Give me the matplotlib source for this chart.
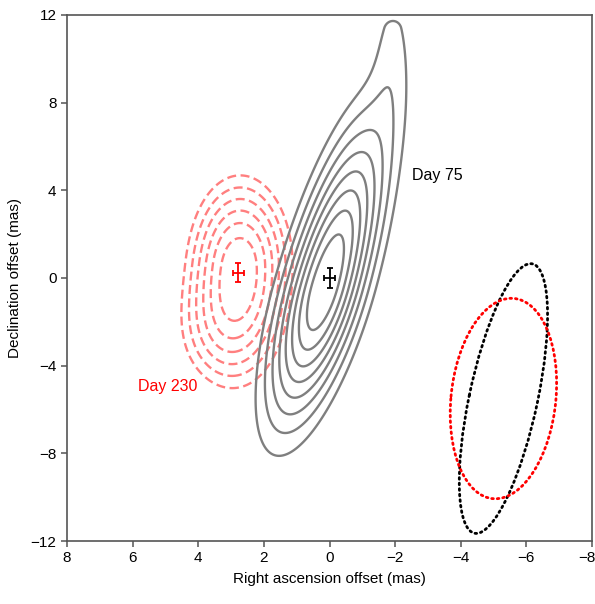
import numpy as np
import matplotlib
matplotlib.use('Agg')
import matplotlib.pyplot as plt
import matplotlib.transforms as mtransforms
from matplotlib.patches import Ellipse

plt.rcParams['font.family'] = ['Liberation Sans', 'DejaVu Sans']

# Day 75 image model: Gaussian components (mas)
d75_x0 = [0.15, -1.92]
d75_y0 = [-0.4, 11.4]
d75_sig_minor = [0.88, 0.45]
d75_sig_up = [5.2, 0.7]
d75_sig_down = [4.3, 3.0]
d75_tilt = [-0.18, 0.0]
d75_amp = [1.0, 0.15]
d75_levels = [0.2, 0.3, 0.4, 0.5, 0.6, 0.7, 0.8, 0.9]

# Day 230 image model
d230_x0 = [2.72, 3.7]
d230_y0 = [0.65, -2.8]
d230_sig_minor = [1.2, 1.15]
d230_sig_up = [3.05, 2.0]
d230_sig_down = [3.8, 2.0]
d230_tilt = [0.0, 0.0]
d230_amp = [1.0, 0.22]
d230_levels = [0.4, 0.5, 0.6, 0.7, 0.8, 0.9]

# fitted positions with errors
pos_x = [0.0, 2.78]
pos_y = [0.0, 0.24]
pos_xerr = [0.17, 0.16]
pos_yerr = [0.46, 0.44]
pos_color = ['black', 'red']

# restoring beams: centre, semi-major, semi-minor, angle (deg)
beam_cx = [-5.3, -5.3]
beam_cy = [-5.5, -5.5]
beam_a = [6.21, 4.58]
beam_b = [1.05, 1.6]
beam_angle = [97.9, 93.5]
beam_color = ['black', 'red']


def model(X, Y, x0, y0, smin, sup, sdown, tilt, amp):
    Z = np.zeros_like(X)
    for i in range(len(x0)):
        v = Y - y0[i]
        u = (X - x0[i]) - tilt[i] * v
        sv = np.where(v > 0, sup[i], sdown[i])
        Z += amp[i] * np.exp(-0.5 * ((u / smin[i]) ** 2 + (v / sv) ** 2))
    return Z / Z.max()


x = np.linspace(-8, 8, 500)
y = np.linspace(-12, 12, 700)
X, Y = np.meshgrid(x, y)
Z75 = model(X, Y, d75_x0, d75_y0, d75_sig_minor, d75_sig_up, d75_sig_down, d75_tilt, d75_amp)
Z230 = model(X, Y, d230_x0, d230_y0, d230_sig_minor, d230_sig_up, d230_sig_down, d230_tilt, d230_amp)

fig = plt.figure(figsize=(5.95, 6.04), dpi=100)
ax = fig.add_axes([0.1126, 0.1043, 0.8824, 0.8709])

cs = ax.contour(X, Y, Z230, levels=d230_levels, colors='#ff7f7f', linewidths=1.7)
cs.set_linestyle((0, (3.8, 1.9)))
ax.contour(X, Y, Z75, levels=d75_levels, colors='#7f7f7f', linewidths=1.7)

for i in range(len(beam_cx)):
    e = Ellipse((beam_cx[i], beam_cy[i]), 2 * beam_a[i], 2 * beam_b[i], angle=beam_angle[i],
                fill=False, edgecolor=beam_color[i], linewidth=2.0, linestyle=(0, (0.6, 1.4)))
    e.set_capstyle('round')
    ax.add_patch(e)

for i in range(len(pos_x)):
    ax.errorbar(pos_x[i], pos_y[i], xerr=pos_xerr[i], yerr=pos_yerr[i], color=pos_color[i],
                elinewidth=1.3, capsize=2.5, capthick=1.3, fmt='none')

ax.text(-2.52, 4.69, 'Day 75', color='black', fontsize=11.5, ha='left', va='center')
ax.text(5.84, -4.93, 'Day 230', color='red', fontsize=11.5, ha='left', va='center')

ax.set_xlim(8, -8)
ax.set_ylim(-12, 12)
ax.set_xticks([8, 6, 4, 2, 0, -2, -4, -6, -8])
ax.set_yticks([-12, -8, -4, 0, 4, 8, 12])
ax.set_xticklabels(['8', '6', '4', '2', '0', '\u22122', '\u22124', '\u22126', '\u22128'])
ax.set_yticklabels(['\u221212', '\u22128', '\u22124', '0', '4', '8', '12'])
for s in ax.spines.values():
    s.set_color('#555555')
    s.set_linewidth(1.2)
ax.tick_params(direction='out', length=4.5, width=1.1, color='#555555', labelsize=11, pad=3)
ax.set_xlabel('Right ascension offset (mas)', fontsize=11, labelpad=5)
ax.set_ylabel('Declination offset (mas)', fontsize=11, labelpad=6)

# keep the last tick label inside the canvas
last = ax.get_xticklabels()[-1]
last.set_transform(last.get_transform() + mtransforms.ScaledTranslation(-5 / 100, 0, fig.dpi_scale_trans))

fig.savefig('out.png', dpi=100)
